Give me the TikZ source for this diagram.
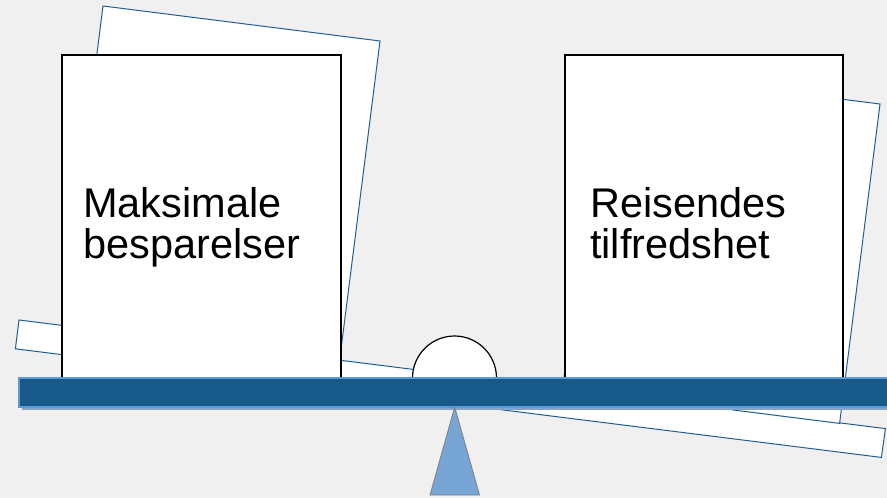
\documentclass[tikz,border=0pt]{standalone}
\usepackage{fontspec}
\setmainfont{Liberation Sans}
\definecolor{bg}{HTML}{F0F0F0}
\definecolor{tiltblue}{HTML}{1F5F93}
\definecolor{beamblue}{HTML}{175A8A}
\definecolor{beamedge}{HTML}{5B9BD5}
\definecolor{beamshadow}{HTML}{86A3C9}
\definecolor{pivot}{HTML}{76A5D6}
\tikzset{
  tilted/.style={draw=tiltblue, fill=white, line width=1pt, line join=miter},
  paper/.style={draw=black, fill=white, line width=1.2pt},
  label/.style={font=\fontsize{41.5}{41}\selectfont, align=left, inner sep=0pt, anchor=base west},
}
\begin{document}
\begin{tikzpicture}[x=1pt,y=-1pt]
\useasboundingbox (0,0) rectangle (887,498);
\fill[bg] (0,0) rectangle (887,498);
% tilted beam (before state)
\draw[tilted] (19,320) -- (885.4,428.6) -- (881.4,457.4) -- (15.4,348.8) -- cycle;
% tilted papers
\draw[tilted] (103,6) -- (380,41) -- (339.6,360.4) -- (62.6,325.4) -- cycle;
\draw[tilted] (603,69) -- (880,104) -- (839.6,423.4) -- (562.6,388.4) -- cycle;
% upright papers
\draw[paper] (62,55) rectangle (341,378);
\draw[paper] (565,55) rectangle (843,378);
\node[label] (left) at (83,258) {Maksimale\\besparelser};
\node[label] (right) at (590,258) {Reisendes\\tilfredshet};
% weight
\draw[draw=black, fill=white, line width=1.2pt] (412.5,378) arc[start angle=180, end angle=360, radius=42];
% beam
\fill[beamshadow] (22,381) rectangle (892,410);
\draw[fill=beamblue, draw=beamedge, line width=1.2pt] (19,378) rectangle (892,407);
% pivot
\draw[fill=pivot, draw=gray, line width=0.8pt] (454.7,407) -- (479.5,495) -- (430,495) -- cycle;
\end{tikzpicture}
\end{document}
